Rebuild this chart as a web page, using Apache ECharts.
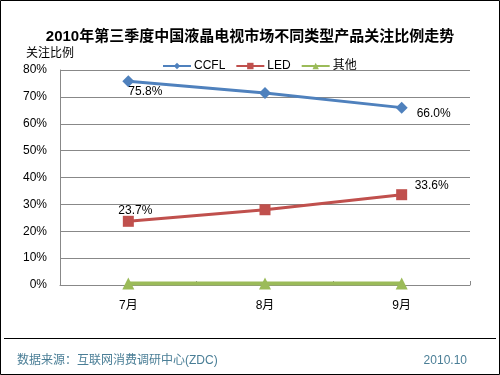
<!DOCTYPE html>
<html>
<head>
<meta charset="utf-8">
<script src="https://cdn.jsdelivr.net/npm/echarts@6/dist/echarts.min.js"></script>
<style>
  html, body { margin: 0; padding: 0; background: #fff; }
  #chart { width: 500px; height: 375px; }
</style>
</head>
<body>
<div id="chart"></div>
<script>
  // 月份
  var months = ['7月', '8月', '9月'];
  // 各类型关注比例(%)
  var ccfl = [75.8, 71.4, 66.0];
  var led = [23.7, 28.0, 33.6];
  var other = [0.6, 0.6, 0.6];
  var yTicks = ['0%', '10%', '20%', '30%', '40%', '50%', '60%', '70%', '80%'];

  var myChart = echarts.init(document.getElementById('chart'));
  var font = 'Arial, "Liberation Sans", "Noto Sans CJK SC", sans-serif';

  // 只给首尾两个点显示数值标签
  function endLabels(data, pos0, pos2) {
    return data.map(function (v, i) {
      var item = { value: v };
      if (i === 0) item.label = { show: true, position: pos0[0], offset: pos0[1] };
      else if (i === data.length - 1) item.label = { show: true, position: pos2[0], offset: pos2[1] };
      return item;
    });
  }

  var option = {
    animation: false,
    backgroundColor: '#fff',
    textStyle: { fontFamily: font },
    title: {
      text: '2010年第三季度中国液晶电视市场不同类型产品关注比例走势',
      left: 'center',
      top: 24,
      textStyle: { fontSize: 15, fontWeight: 'bold', color: '#000', fontFamily: font }
    },
    legend: {
      top: 55,
      left: 157,
      itemWidth: 28,
      itemHeight: 8,
      itemGap: 10,
      textStyle: { fontSize: 12, color: '#000', padding: [0, 0, 0, -2] },
      data: ['CCFL', 'LED', '其他']
    },
    grid: { left: 60, right: 30, top: 70, bottom: 90 },
    xAxis: {
      type: 'category',
      data: months,
      boundaryGap: true,
      axisLine: { lineStyle: { color: '#888' } },
      axisTick: { show: true, inside: true, length: 4, lineStyle: { color: '#888' } },
      axisLabel: { color: '#000', fontSize: 12, margin: 15 }
    },
    yAxis: {
      type: 'value',
      min: 0,
      max: 80,
      interval: 10,
      name: '关注比例',
      nameLocation: 'end',
      nameGap: 10,
      nameTextStyle: { color: '#000', fontSize: 12, align: 'right', padding: [0, -14, 0, 0] },
      axisLine: { show: true, lineStyle: { color: '#888' } },
      axisTick: { show: false },
      splitLine: { lineStyle: { color: '#888', width: 1 } },
      axisLabel: {
        color: '#000',
        fontSize: 12,
        margin: 13,
        formatter: function (v) { return yTicks[v / 10]; }
      }
    },
    series: [
      {
        name: 'CCFL',
        type: 'line',
        data: endLabels(ccfl, ['bottom', [17, -7]], ['right', [4, 6]]),
        color: '#4F81BD',
        lineStyle: { width: 3 },
        symbol: 'diamond',
        symbolSize: 12,
        label: { color: '#000', fontSize: 12, formatter: function (p) { return p.value.toFixed(1) + '%'; } }
      },
      {
        name: 'LED',
        type: 'line',
        data: endLabels(led, ['top', [7, 6]], ['top', [30, 7]]),
        color: '#C0504D',
        lineStyle: { width: 3 },
        symbol: 'rect',
        symbolSize: 11,
        label: { color: '#000', fontSize: 12, formatter: function (p) { return p.value.toFixed(1) + '%'; } }
      },
      {
        name: '其他',
        type: 'line',
        data: other,
        color: '#9BBB59',
        lineStyle: { width: 4 },
        symbol: 'triangle',
        symbolSize: 12
      }
    ],
    graphic: [
      {
        type: 'rect',
        shape: { x: 0.5, y: 0.5, width: 499, height: 374 },
        style: { fill: null, stroke: '#000', lineWidth: 1 },
        silent: true
      },
      {
        type: 'line',
        shape: { x1: 4, y1: 338.5, x2: 496, y2: 338.5 },
        style: { stroke: '#000', lineWidth: 1 }
      },
      {
        type: 'text',
        left: 17,
        top: 355,
        style: { text: '数据来源：互联网消费调研中心(ZDC)', fill: '#4A7E96', font: '12px ' + font }
      },
      {
        type: 'text',
        right: 33,
        top: 355,
        style: { text: '2010.10', fill: '#4A7E96', font: '12px ' + font }
      }
    ]
  };

  myChart.setOption(option);
</script>
</body>
</html>
